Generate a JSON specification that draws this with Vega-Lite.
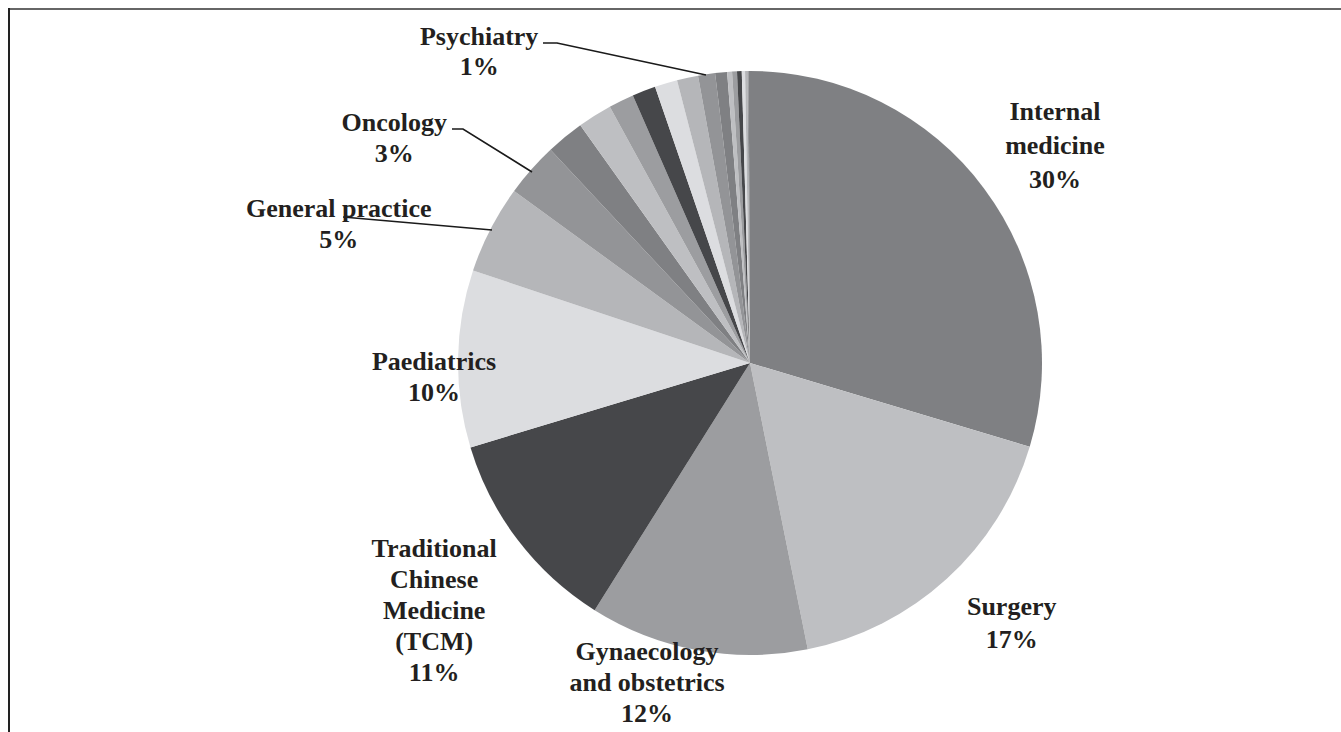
{
  "$schema": "https://vega.github.io/schema/vega-lite/v6.json",
  "autosize": "none",
  "width": 1182,
  "height": 726,
  "padding": {"left": 159, "top": 0, "right": 0, "bottom": 6},
  "background": "white",
  "config": {"view": {"stroke": null}},
  "data": {
    "values": [
      {"name": "Internal medicine", "value": 29.63, "order": 1, "label": "Internal\nmedicine\n30%"},
      {"name": "Surgery", "value": 17.2, "order": 2, "label": "Surgery\n17%"},
      {"name": "Gynaecology and obstetrics", "value": 12.1, "order": 3, "label": "Gynaecology\nand obstetrics\n12%"},
      {"name": "Traditional Chinese Medicine (TCM)", "value": 11.4, "order": 4, "label": "Traditional\nChinese\nMedicine\n(TCM)\n11%"},
      {"name": "Paediatrics", "value": 9.8, "order": 5, "label": "Paediatrics\n10%"},
      {"name": "General practice", "value": 4.9, "order": 6, "label": "General practice\n5%"},
      {"name": "Oncology", "value": 3.0, "order": 7, "label": "Oncology\n3%"},
      {"name": "Other 1", "value": 2.1, "order": 8, "label": ""},
      {"name": "Other 2", "value": 1.9, "order": 9, "label": ""},
      {"name": "Other 3", "value": 1.4, "order": 10, "label": ""},
      {"name": "Other 4", "value": 1.3, "order": 11, "label": ""},
      {"name": "Other 5", "value": 1.25, "order": 12, "label": ""},
      {"name": "Other 6", "value": 1.17, "order": 13, "label": ""},
      {"name": "Psychiatry", "value": 0.94, "order": 14, "label": "Psychiatry\n1%"},
      {"name": "Other 7", "value": 0.66, "order": 15, "label": ""},
      {"name": "Other 8", "value": 0.27, "order": 16, "label": ""},
      {"name": "Other 9", "value": 0.27, "order": 17, "label": ""},
      {"name": "Other 10", "value": 0.26, "order": 18, "label": ""},
      {"name": "Other 11", "value": 0.18, "order": 19, "label": ""},
      {"name": "Other 12", "value": 0.13, "order": 20, "label": ""},
      {"name": "Other 13", "value": 0.07, "order": 21, "label": ""},
      {"name": "Other 14", "value": 0.07, "order": 22, "label": ""}
    ]
  },
  "layer": [
    {
      "mark": {"type": "arc", "outerRadius": 292},
      "encoding": {
        "theta": {"field": "value", "type": "quantitative", "stack": true},
        "order": {"field": "order", "type": "quantitative"},
        "color": {
          "field": "name",
          "type": "nominal",
          "legend": null,
          "scale": {
            "domain": ["Internal medicine", "Surgery", "Gynaecology and obstetrics", "Traditional Chinese Medicine (TCM)", "Paediatrics", "General practice", "Oncology", "Other 1", "Other 2", "Other 3", "Other 4", "Other 5", "Other 6", "Psychiatry", "Other 7", "Other 8", "Other 9", "Other 10", "Other 11", "Other 12", "Other 13", "Other 14"],
            "range": ["#7f8083", "#bebfc2", "#9c9da0", "#46474a", "#dcdde0", "#b5b6b9", "#939497"]
          }
        }
      }
    },
    {
      "transform": [{"filter": {"field": "order", "equal": 1}}],
      "mark": {"type": "point", "shape": "M-207,-320L-193,-320L-44,-288M-298,-234L-287,-234L-218,-191M-407,-146L-258,-133", "size": 4, "filled": false, "opacity": 1, "color": "#1a1a1a", "strokeWidth": 1.6},
      "encoding": {}
    },
    {
      "transform": [{"filter": {"field": "order", "equal": 1}}],
      "mark": {"type": "point", "shape": "M-741,-354L591,-354", "size": 4, "filled": false, "opacity": 1, "color": "#666666", "strokeWidth": 2},
      "encoding": {}
    },
    {
      "transform": [{"filter": {"field": "order", "equal": 1}}],
      "mark": {"type": "point", "shape": "M-741,-355L-741,369", "size": 4, "filled": false, "opacity": 1, "color": "#222222", "strokeWidth": 2},
      "encoding": {}
    },
    {
      "mark": {"type": "text", "radius": 374, "dx": 5, "dy": -28, "font": "Liberation Serif", "fontSize": 26, "fontWeight": "bold", "lineBreak": "\n", "lineHeight": 34, "color": "#231f20", "align": "center", "baseline": "middle"},
      "encoding": {
        "theta": {"field": "value", "type": "quantitative", "stack": true},
        "order": {"field": "order", "type": "quantitative"},
        "detail": {"field": "name", "type": "nominal"},
        "text": {"condition": {"test": "datum.name === 'Internal medicine'", "field": "label"}, "value": ""}
      }
    },
    {
      "mark": {"type": "text", "radius": 369, "dx": 13, "dy": -29, "font": "Liberation Serif", "fontSize": 26, "fontWeight": "bold", "lineBreak": "\n", "lineHeight": 33, "color": "#231f20", "align": "center", "baseline": "middle"},
      "encoding": {
        "theta": {"field": "value", "type": "quantitative", "stack": true},
        "order": {"field": "order", "type": "quantitative"},
        "detail": {"field": "name", "type": "nominal"},
        "text": {"condition": {"test": "datum.name === 'Surgery'", "field": "label"}, "value": ""}
      }
    },
    {
      "mark": {"type": "text", "radius": 333, "dx": -43, "dy": -39, "font": "Liberation Serif", "fontSize": 26, "fontWeight": "bold", "lineBreak": "\n", "lineHeight": 31, "color": "#231f20", "align": "center", "baseline": "middle"},
      "encoding": {
        "theta": {"field": "value", "type": "quantitative", "stack": true},
        "order": {"field": "order", "type": "quantitative"},
        "detail": {"field": "name", "type": "nominal"},
        "text": {"condition": {"test": "datum.name === 'Gynaecology and obstetrics'", "field": "label"}, "value": ""}
      }
    },
    {
      "mark": {"type": "text", "radius": 401, "dx": 3, "dy": -57, "font": "Liberation Serif", "fontSize": 26, "fontWeight": "bold", "lineBreak": "\n", "lineHeight": 31, "color": "#231f20", "align": "center", "baseline": "middle"},
      "encoding": {
        "theta": {"field": "value", "type": "quantitative", "stack": true},
        "order": {"field": "order", "type": "quantitative"},
        "detail": {"field": "name", "type": "nominal"},
        "text": {"condition": {"test": "datum.name === 'Traditional Chinese Medicine (TCM)'", "field": "label"}, "value": ""}
      }
    },
    {
      "mark": {"type": "text", "radius": 316, "dx": 0, "dy": 4, "font": "Liberation Serif", "fontSize": 26, "fontWeight": "bold", "lineBreak": "\n", "lineHeight": 31, "color": "#231f20", "align": "center", "baseline": "middle"},
      "encoding": {
        "theta": {"field": "value", "type": "quantitative", "stack": true},
        "order": {"field": "order", "type": "quantitative"},
        "detail": {"field": "name", "type": "nominal"},
        "text": {"condition": {"test": "datum.name === 'Paediatrics'", "field": "label"}, "value": ""}
      }
    },
    {
      "mark": {"type": "text", "radius": 429, "dx": -30, "dy": 43, "font": "Liberation Serif", "fontSize": 26, "fontWeight": "bold", "lineBreak": "\n", "lineHeight": 31, "color": "#231f20", "align": "center", "baseline": "middle"},
      "encoding": {
        "theta": {"field": "value", "type": "quantitative", "stack": true},
        "order": {"field": "order", "type": "quantitative"},
        "detail": {"field": "name", "type": "nominal"},
        "text": {"condition": {"test": "datum.name === 'General practice'", "field": "label"}, "value": ""}
      }
    },
    {
      "mark": {"type": "text", "radius": 415, "dx": -45, "dy": 35, "font": "Liberation Serif", "fontSize": 26, "fontWeight": "bold", "lineBreak": "\n", "lineHeight": 31, "color": "#231f20", "align": "center", "baseline": "middle"},
      "encoding": {
        "theta": {"field": "value", "type": "quantitative", "stack": true},
        "order": {"field": "order", "type": "quantitative"},
        "detail": {"field": "name", "type": "nominal"},
        "text": {"condition": {"test": "datum.name === 'Oncology'", "field": "label"}, "value": ""}
      }
    },
    {
      "mark": {"type": "text", "radius": 348, "dx": -219, "dy": 18, "font": "Liberation Serif", "fontSize": 26, "fontWeight": "bold", "lineBreak": "\n", "lineHeight": 30, "color": "#231f20", "align": "center", "baseline": "middle"},
      "encoding": {
        "theta": {"field": "value", "type": "quantitative", "stack": true},
        "order": {"field": "order", "type": "quantitative"},
        "detail": {"field": "name", "type": "nominal"},
        "text": {"condition": {"test": "datum.name === 'Psychiatry'", "field": "label"}, "value": ""}
      }
    }
  ]
}
